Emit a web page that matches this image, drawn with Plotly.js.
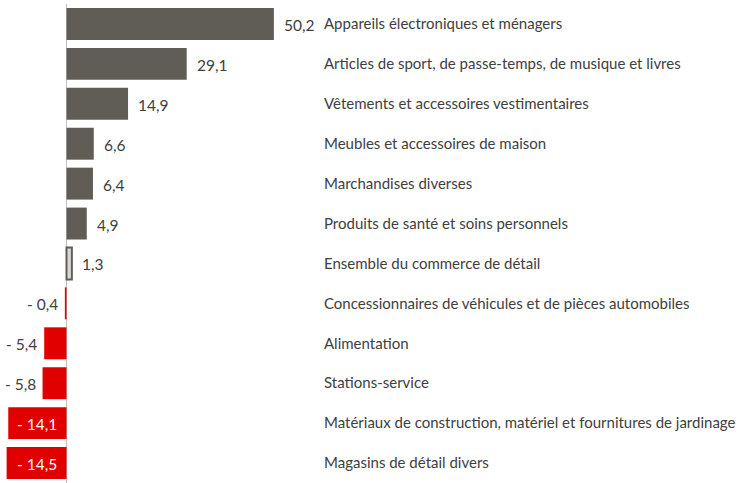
<!DOCTYPE html>
<html>
<head>
<meta charset="utf-8">
<script src="https://cdn.plot.ly/plotly-3.0.1.min.js"></script>
<style>html,body{margin:0;padding:0;background:#fff;}#chart{width:740px;height:483px;}</style>
</head>
<body>
<div id="chart"></div>
<script>
const categories = [
  "Appareils électroniques et ménagers",
  "Articles de sport, de passe-temps, de musique et livres",
  "Vêtements et accessoires vestimentaires",
  "Meubles et accessoires de maison",
  "Marchandises diverses",
  "Produits de santé et soins personnels",
  "Ensemble du commerce de détail",
  "Concessionnaires de véhicules et de pièces automobiles",
  "Alimentation",
  "Stations-service",
  "Matériaux de construction, matériel et fournitures de jardinage",
  "Magasins de détail divers"
];
const values = [50.2, 29.1, 14.9, 6.6, 6.4, 4.9, 1.3, -0.4, -5.4, -5.8, -14.1, -14.5];
const totalCategory = "Ensemble du commerce de détail";

const GREY = "#605c56", RED = "#e00000", LIGHT = "#d9d9d9";
const FONT = "Lato, 'Open Sans', sans-serif";

function fmt(v) {
  return (v < 0 ? "- " : "") + Math.abs(v).toFixed(1).replace(".", ",");
}

const fillColors = values.map((v, i) => categories[i] === totalCategory ? LIGHT : (v < 0 ? RED : GREY));
const lineColors = values.map((v, i) => categories[i] === totalCategory ? GREY : (v < 0 ? RED : GREY));
const lineWidths = values.map((v, i) => categories[i] === totalCategory ? 2 : 0);

const trace = {
  type: "bar",
  orientation: "h",
  x: values,
  y: categories,
  marker: { color: fillColors, line: { color: lineColors, width: lineWidths } },
  hoverinfo: "none"
};

const annotations = values.map((v, i) => {
  const base = { y: categories[i], yshift: -1, showarrow: false, text: fmt(v), font: { family: FONT, size: 15.5, color: "#404040" } };
  if (v >= 0) return Object.assign(base, { x: v, xanchor: "left", xshift: 8 });
  if (v > -10) return Object.assign(base, { x: v, xanchor: "right", xshift: -5 });
  return Object.assign(base, { x: v / 2, xanchor: "center", font: { family: FONT, size: 15.5, color: "#ffffff" } });
});

const layout = {
  width: 740, height: 483,
  margin: { l: 0, r: 424, t: 4, b: 0, pad: 0 },
  paper_bgcolor: "#fff", plot_bgcolor: "#fff",
  showlegend: false,
  bargap: 0.2,
  xaxis: { range: [-16.1, 60.4], showgrid: false, showticklabels: false, ticks: "",
           zeroline: true, zerolinecolor: "#bfbfbf", zerolinewidth: 1.5, fixedrange: true },
  yaxis: { type: "category", autorange: "reversed", side: "right", showgrid: false, ticks: "",
           showline: false, zeroline: false, automargin: false, ticklabelstandoff: 7,
           tickfont: { family: FONT, size: 15, color: "#404040" } },
  annotations: annotations
};

Plotly.newPlot("chart", [trace], layout, { displayModeBar: false, staticPlot: true });
</script>
</body>
</html>
